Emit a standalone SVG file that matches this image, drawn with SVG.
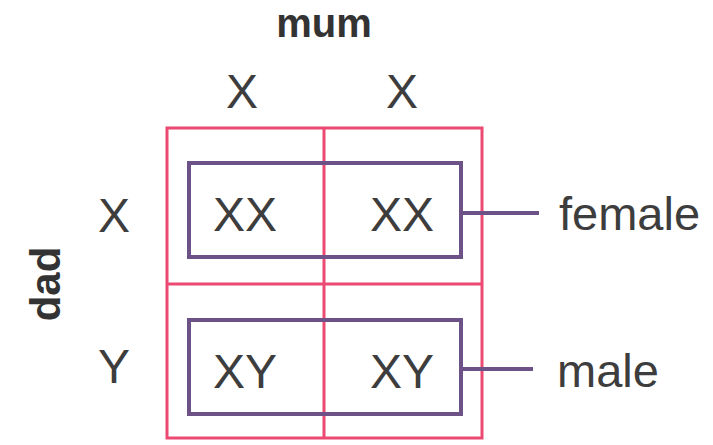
<svg xmlns="http://www.w3.org/2000/svg" width="713" height="445" viewBox="0 0 713 445">
<style>
.t{font-family:"Liberation Sans",Arial,sans-serif;fill:#3d3d3d;text-anchor:middle}
.b{font-family:"Liberation Sans",Arial,sans-serif;fill:#333;font-weight:bold;text-anchor:middle}
.pink{fill:none;stroke:#ec4a73;stroke-width:3}
.purp{fill:none;stroke:#6d5287;stroke-width:4}
</style>
<rect width="713" height="445" fill="#fff"/>
<g id="headers">
<text class="b" x="324" y="37" font-size="40">mum</text>
<text class="b" font-size="42" transform="translate(60,284) rotate(-90)" x="0" y="0">dad</text>
<text class="t" x="242" y="108" font-size="48">X</text>
<text class="t" x="402" y="108" font-size="48">X</text>
<text class="t" x="114" y="232" font-size="48">X</text>
<text class="t" x="114" y="383" font-size="48">Y</text>
</g>
<g id="grid">
<rect class="pink" x="167" y="128" width="315" height="310"/>
<line class="pink" x1="324" y1="128" x2="324" y2="438"/>
<line class="pink" x1="167" y1="284" x2="482" y2="284"/>
</g>
<g id="female-group">
<rect class="purp" x="189" y="163" width="272" height="94"/>
<text class="t" x="245" y="231" font-size="48">XX</text>
<text class="t" x="402" y="231" font-size="48">XX</text>
</g>
<g id="male-group">
<rect class="purp" x="189" y="320" width="272" height="94"/>
<text class="t" x="245" y="388" font-size="48">XY</text>
<text class="t" x="402" y="388" font-size="48">XY</text>
</g>
<g id="connectors">
<line class="purp" x1="461" y1="213" x2="539" y2="213"/>
<line class="purp" x1="461" y1="369" x2="533" y2="369"/>
</g>
<g id="female">
<text class="t" x="559" y="230" font-size="47" style="text-anchor:start">female</text>
</g>
<g id="male">
<text class="t" x="557" y="387" font-size="47" style="text-anchor:start">male</text>
</g>
</svg>
